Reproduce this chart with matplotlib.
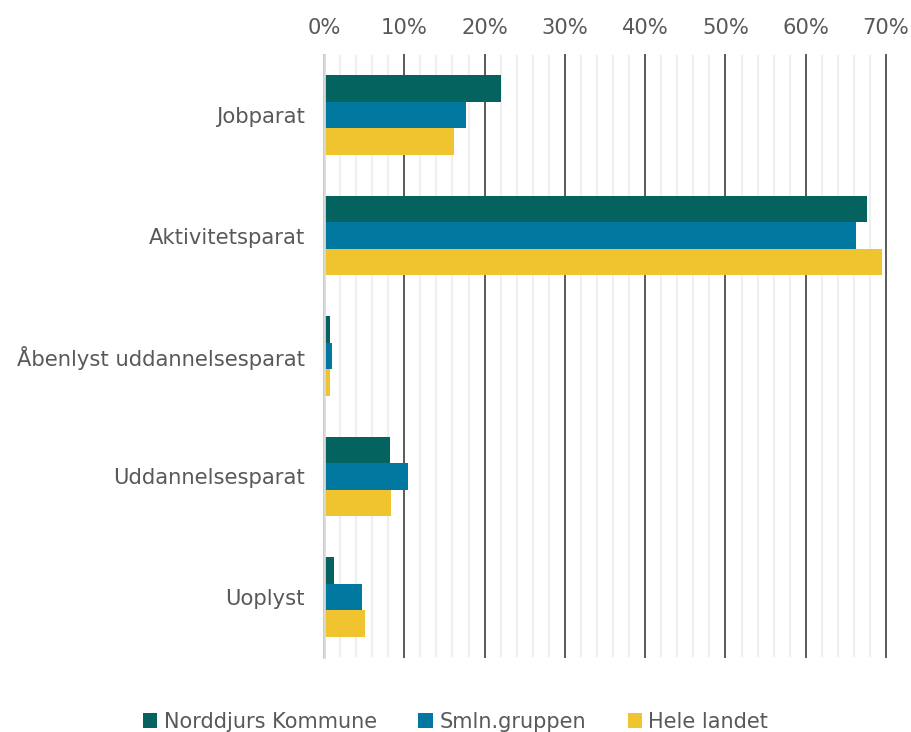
import matplotlib.pyplot as plt
import numpy as np

categories = ["Jobparat", "Aktivitetsparat", "Åbenlyst uddannelsesparat",
              "Uddannelsesparat", "Uoplyst"]
series_names = ["Norddjurs Kommune", "Smln.gruppen", "Hele landet"]
norddjurs = [22.1, 67.6, 0.75, 8.2, 1.2]
smln = [17.7, 66.2, 0.95, 10.4, 4.7]
hele = [16.2, 69.5, 0.7, 8.3, 5.1]
colors = ["#04635F", "#0078A0", "#F0C42E"]
xticks = [0, 10, 20, 30, 40, 50, 60, 70]

txt = "#595959"
fig = plt.figure(figsize=(9.11, 7.32), dpi=100)
ax = fig.add_axes([0.3557, 0.1025, 0.9726 - 0.3557, 0.8224])

y = np.arange(len(categories))
h = 0.22
for i, (vals, name) in enumerate(zip([norddjurs, smln, hele], series_names)):
    ax.barh(y + (i - 1) * h, vals, height=h, color=colors[i], label=name, zorder=3)

ax.set_xlim(0, 70)
ax.set_ylim(len(categories) - 0.5, -0.5)
ax.set_yticks(y)
ax.set_yticklabels(categories)
ax.set_xticks(xticks)
ax.set_xticklabels([f"{t}%" for t in xticks])
ax.set_xticks(np.arange(0, 71, 2), minor=True)
ax.xaxis.tick_top()
ax.tick_params(axis="both", which="both", length=0, labelsize=15.2, labelcolor=txt)
ax.tick_params(axis="x", pad=12)
ax.tick_params(axis="y", pad=14)
ax.grid(axis="x", which="minor", color="#efefef", lw=1.5, zorder=0)
ax.grid(axis="x", which="major", color="#5a5a5a", lw=1.4, zorder=1)
for gl in ax.get_xgridlines():
    gl.set_clip_on(False)
for s in ["top", "right", "bottom"]:
    ax.spines[s].set_visible(False)
ax.spines["left"].set_color("#d9d9d9")
ax.spines["left"].set_linewidth(2)
ax.spines["left"].set_zorder(4)

leg = fig.legend(loc="lower center", bbox_to_anchor=(0.5, -0.025), ncol=3,
                 frameon=False, fontsize=15, handlelength=0.7, handleheight=0.7,
                 handletextpad=0.3, columnspacing=2.0)
for t in leg.get_texts():
    t.set_color(txt)

fig.savefig("out.png", dpi=100)
